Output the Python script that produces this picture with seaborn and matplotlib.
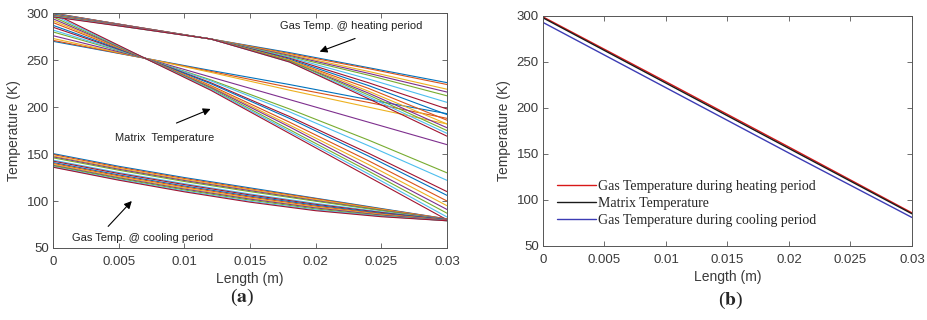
import matplotlib
matplotlib.use("Agg")
import matplotlib.pyplot as plt
import pandas as pd
import seaborn as sns

# ---- panel (a): families of curves ----
heating_x = [0, 0.006, 0.012, 0.018, 0.024, 0.03]
heating_T = [
    [300.0, 286.0, 272.5, 258, 242, 226],
    [300.0, 286.0, 272.5, 257, 241, 224],
    [299.5, 286.0, 272.5, 256, 238, 219],
    [299.5, 286.0, 272.5, 255, 236, 216],
    [299.0, 285.5, 272.5, 254, 234, 212],
    [299.0, 285.5, 272.5, 253, 230, 205],
    [298.5, 285.5, 272.5, 252, 226, 198],
    [298.5, 285.0, 272.5, 251, 223, 192],
    [298.0, 285.0, 272.5, 250, 220, 186],
    [298.0, 285.0, 272.5, 250, 217, 182],
    [297.5, 285.0, 272.5, 249, 215, 178],
    [297.0, 284.5, 272.5, 249, 213, 175],
    [296.5, 284.5, 272.5, 248, 211, 172],
    [296.0, 284.5, 272.5, 248, 209, 169],
]

matrix_x = [0, 0.007, 0.012, 0.018, 0.024, 0.03]
matrix_T = [
    [270, 252, 239, 224, 208, 193],
    [271, 252, 238, 221, 205, 188],
    [273, 252, 237, 218, 200, 182],
    [276, 252, 232, 208, 184, 160],
    [280, 252, 229, 198, 165, 130],
    [282, 252, 228, 195, 159, 122],
    [285, 252, 226, 190, 151, 110],
    [287, 252, 225, 188, 148, 106],
    [290, 252, 223, 184, 143, 100],
    [292, 252, 222, 181, 139, 95],
    [294, 252, 221, 179, 135, 91],
    [296, 252, 220, 176, 132, 87],
    [298, 252, 219, 174, 129, 83],
    [300, 252, 218, 172, 126, 80],
]

cooling_x = [0, 0.005, 0.01, 0.015, 0.02, 0.025, 0.03]
cooling_T = [
    [150.5, 137.0, 125.0, 114.0, 103.0, 92.0, 81.0],
    [149.5, 136.0, 124.0, 113.0, 102.5, 91.5, 81.0],
    [148.0, 134.8, 122.8, 112.0, 101.5, 91.0, 80.5],
    [147.0, 133.8, 121.8, 111.0, 100.5, 90.2, 80.5],
    [146.0, 132.8, 120.8, 110.0, 99.8, 89.8, 80.0],
    [143.5, 130.3, 118.5, 107.5, 97.5, 88.5, 80.0],
    [142.5, 129.3, 117.5, 106.5, 96.5, 87.8, 80.0],
    [141.0, 127.8, 116.0, 105.2, 95.5, 87.0, 80.0],
    [140.0, 126.8, 115.0, 104.2, 94.5, 86.3, 79.5],
    [139.0, 125.7, 113.8, 103.0, 93.5, 85.6, 79.5],
    [138.0, 124.7, 112.7, 102.0, 92.6, 85.0, 79.5],
    [137.5, 124.0, 111.8, 101.0, 91.6, 84.3, 79.0],
    [136.5, 122.9, 110.6, 99.7, 90.5, 83.8, 79.0],
    [136.0, 122.2, 109.8, 98.8, 89.7, 83.3, 79.0],
]

# ---- panel (b): three averaged lines ----
avg_x = [0, 0.01, 0.02, 0.03]
avg_heating = [299, 228.5, 157.5, 86]
avg_matrix = [298, 227, 156, 85]
avg_cooling = [293, 222, 151, 81]
avg_labels = ["Gas Temperature during heating period",
              "Matrix Temperature",
              "Gas Temperature during cooling period"]

xticks = [0, 0.005, 0.01, 0.015, 0.02, 0.025, 0.03]
xtick_labels = ["0", "0.005", "0.01", "0.015", "0.02", "0.025", "0.03"]
yticks = [50, 100, 150, 200, 250, 300]

matlab_colors = ["#0072BD", "#D95319", "#EDB120", "#7E2F8E",
                 "#77AC30", "#4DBEEE", "#A2142F"]

sns.set_style("ticks")
plt.rcParams["font.family"] = ["Liberation Sans", "DejaVu Sans"]
plt.rcParams["mathtext.fontset"] = "stix"

fig = plt.figure(figsize=(9.28, 3.2), dpi=100)
ax1 = fig.add_axes([0.0571, 0.225, 0.4246, 0.734])
ax2 = fig.add_axes([0.5851, 0.2313, 0.3976, 0.7188])

# build long table for panel (a)
rows = []
palette = {}
k = 0
for name, xs, fam in [("m", matrix_x, matrix_T), ("h", heating_x, heating_T),
                      ("c", cooling_x, cooling_T)]:
    for i, ys in enumerate(fam):
        cid = f"{name}{i}"
        palette[cid] = matlab_colors[k % 7]
        k += 1
        for xv, yv in zip(xs, ys):
            rows.append({"x": xv, "T": yv, "curve": cid})
df_a = pd.DataFrame(rows)

sns.lineplot(data=df_a, x="x", y="T", hue="curve", palette=palette,
             legend=False, estimator=None, sort=False, lw=0.8, ax=ax1)

# panel (b)
rows = []
for lab, ys in zip(avg_labels, [avg_heating, avg_matrix, avg_cooling]):
    for xv, yv in zip(avg_x, ys):
        rows.append({"x": xv, "T": yv, "series": lab})
df_b = pd.DataFrame(rows)
pal_b = dict(zip(avg_labels, ["#d81818", "#1a1a1a", "#3c3cb4"]))
sns.lineplot(data=df_b, x="x", y="T", hue="series", hue_order=avg_labels,
             palette=pal_b, estimator=None, sort=False, lw=1.0, ax=ax2)

for ax in (ax1, ax2):
    ax.set_xlim(0, 0.03)
    ax.set_ylim(50, 300)
    ax.set_xticks(xticks)
    ax.set_xticklabels(xtick_labels)
    ax.set_yticks(yticks)
    ax.tick_params(direction="in", top=True, right=True, length=3.5,
                   width=0.6, color="#555555", labelcolor="#3a3a3a",
                   labelsize=9.5)
    ax.tick_params(axis="x", pad=6)
    ax.tick_params(axis="y", pad=3)
    for sp in ax.spines.values():
        sp.set_color("#555555")
        sp.set_linewidth(0.7)
    ax.set_xlabel("Length (m)", fontsize=10, color="#3a3a3a", labelpad=3)
    ax.set_ylabel("Temperature (K)", fontsize=10, color="#3a3a3a", labelpad=4)

# annotations on (a)
arrow = dict(arrowstyle="-|>", color="k", lw=0.8, mutation_scale=11,
             shrinkA=0, shrinkB=0)
ax1.text(0.0173, 286, "Gas Temp. @ heating period", fontsize=8,
         va="center", ha="left", color="#222222")
ax1.annotate("", xy=(0.0203, 259), xytext=(0.0230, 273), arrowprops=arrow)
ax1.text(0.0047, 167, "Matrix  Temperature", fontsize=8,
         va="center", ha="left", color="#222222")
ax1.annotate("", xy=(0.0120, 198), xytext=(0.0094, 183), arrowprops=arrow)
ax1.text(0.00145, 60.5, "Gas Temp. @ cooling period", fontsize=8,
         va="center", ha="left", color="#222222")
ax1.annotate("", xy=(0.0060, 100), xytext=(0.0042, 73), arrowprops=arrow)

handles, labels = ax2.get_legend_handles_labels()
ax2.legend(handles, labels, loc="center left", bbox_to_anchor=(0.037, 0.184),
           frameon=False, borderpad=0, borderaxespad=0, handlelength=2.8,
           handletextpad=0.2, labelspacing=0.28,
           prop={"family": "Liberation Serif", "size": 10})

fig.text(0.261, 0.069, r"($\mathbf{a}$)", ha="center", va="center",
         fontsize=14, family="Liberation Serif")
fig.text(0.787, 0.0625, r"($\mathbf{b}$)", ha="center", va="center",
         fontsize=14, family="Liberation Serif")

fig.savefig("out.png", dpi=100)
